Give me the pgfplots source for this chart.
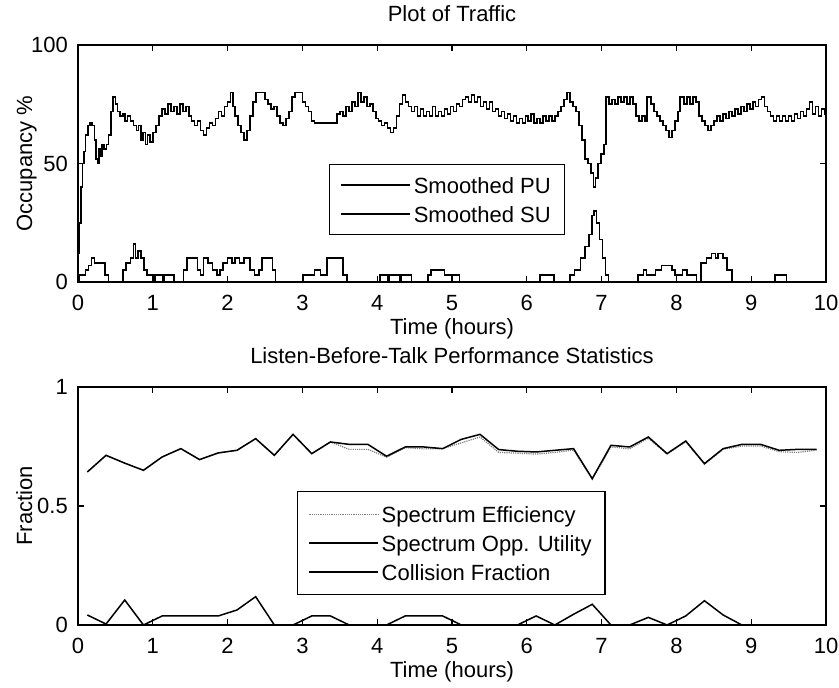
\documentclass[border=0pt]{standalone}
\usepackage{fontspec}
\setmainfont{Liberation Sans}
\usepackage{pgfplots}
\pgfplotsset{compat=1.18}
\newcommand{\ff}{\fontsize{22}{26}\selectfont}
\begin{document}
\begin{tikzpicture}
\useasboundingbox (0,0) rectangle (839pt,688pt);
\pgfplotsset{
  myaxis/.style={
    scale only axis, width=748pt,
    xmin=0, xmax=10, xtick={0,1,...,10},
    tick align=inside, xtick pos=both, ytick pos=both,
    major tick length=6pt,
    axis line style={line width=1.4pt},
    every tick/.style={line width=1.3pt, black},
    /pgf/number format/assume math mode=true,
    x tick label style={font=\ff, inner sep=0pt, anchor=base, yshift=-29pt},
    y tick label style={font=\ff, inner sep=0pt, anchor=east, xshift=-10pt},
    xlabel={Time (hours)},
    xlabel style={font=\ff, inner sep=0pt, at={(axis description cs:0.5,0)}, anchor=base, yshift=-53pt},
    ylabel style={font=\ff, inner sep=0pt, at={(axis description cs:-0.0615,0.5)}, anchor=base, rotate=0},
    title style={font=\ff, inner sep=0pt, at={(axis description cs:0.5,1)}, anchor=base, yshift=17pt},
    legend cell align=left,
    legend image code/.code={\draw[#1] (0pt,0pt) -- (69pt,0pt);},
    legend style={font=\ff, draw=black, line width=1.3pt, inner xsep=11pt,
      nodes={inner xsep=2.5pt, inner ysep=1pt, text height=22pt, text depth=5pt, line width=1.4pt}},
  }
}
% ---------------- top axis ----------------
\begin{axis}[myaxis, at={(78pt,406pt)}, anchor=south west, height=237pt,
  ymin=0, ymax=100, ytick={0,50,100},
  ylabel={Occupancy \%}, title={Plot of Traffic},
  legend style={at={(0.3356,0.4979)}, anchor=north west, inner ysep=6pt}]
\addplot[const plot, black, line width=1.6pt] coordinates {
(0,12) (0.02,25) (0.04,40) (0.06,50) (0.08,55) (0.10,62) (0.13,66) (0.16,67) (0.19,66) (0.22,60) (0.24,52) (0.26,50) (0.28,56) (0.30,53) (0.32,58) (0.35,56) (0.38,58) (0.41,62) (0.44,72) (0.47,78) (0.50,75) (0.53,72) (0.56,70) (0.60,71) (0.63,68) (0.66,70) (0.70,68) (0.74,66) (0.78,64) (0.81,66) (0.84,60) (0.87,63) (0.90,58) (0.93,62) (0.96,59) (1.00,63) (1.04,66) (1.08,70) (1.12,73) (1.16,71) (1.20,75) (1.24,72) (1.28,74) (1.32,71) (1.36,75) (1.40,72) (1.44,74) (1.48,70) (1.52,68) (1.56,66) (1.60,68) (1.64,64) (1.68,62) (1.72,65) (1.76,67) (1.80,66) (1.84,69) (1.88,72) (1.92,70) (1.96,74) (2.00,76) (2.04,80) (2.07,74) (2.10,70) (2.14,66) (2.18,63) (2.22,60) (2.26,64) (2.30,70) (2.34,76) (2.38,80) (2.46,80) (2.50,77) (2.54,75) (2.58,73) (2.62,74) (2.66,70) (2.70,67) (2.74,66) (2.78,69) (2.82,72) (2.86,78) (2.90,80) (2.96,80) (3.00,76) (3.04,74) (3.08,72) (3.12,68) (3.16,67) (3.42,67) (3.46,71) (3.50,72) (3.54,70) (3.58,74) (3.62,72) (3.66,76) (3.70,74) (3.74,80) (3.78,76) (3.82,78) (3.86,74) (3.90,75) (3.94,72) (3.98,69) (4.02,68) (4.06,66) (4.10,67) (4.14,65) (4.18,63) (4.22,65) (4.26,70) (4.30,75) (4.34,79) (4.38,76) (4.42,74) (4.46,72) (4.50,74) (4.54,70) (4.58,73) (4.62,70) (4.66,72) (4.70,70) (4.74,74) (4.78,70) (4.82,72) (4.86,70) (4.90,73) (4.94,71) (4.98,74) (5.02,72) (5.06,75) (5.10,74) (5.14,77) (5.18,78) (5.22,76) (5.26,79) (5.30,76) (5.34,78) (5.38,74) (5.42,76) (5.46,73) (5.50,76) (5.54,72) (5.58,73) (5.62,70) (5.66,72) (5.70,69) (5.74,71) (5.78,68) (5.82,70) (5.86,67) (5.90,69) (5.94,67) (5.98,70) (6.02,68) (6.06,71) (6.10,67) (6.14,69) (6.18,67) (6.22,70) (6.26,68) (6.30,70) (6.34,68) (6.38,70) (6.42,72) (6.46,74) (6.50,77) (6.54,80) (6.58,76) (6.62,74) (6.66,72) (6.70,66) (6.74,60) (6.78,52) (6.82,50) (6.86,46) (6.89,40) (6.92,44) (6.95,50) (6.99,54) (7.03,58) (7.06,78) (7.10,75) (7.14,77) (7.18,75) (7.22,78) (7.26,76) (7.30,78) (7.34,75) (7.38,78) (7.42,75) (7.46,70) (7.50,68) (7.54,70) (7.58,68) (7.61,78) (7.66,75) (7.70,72) (7.74,70) (7.78,68) (7.82,66) (7.86,64) (7.90,61) (7.94,64) (7.98,68) (8.02,72) (8.05,78) (8.10,75) (8.14,78) (8.18,75) (8.22,78) (8.26,76) (8.30,70) (8.34,68) (8.38,66) (8.42,64) (8.46,66) (8.50,68) (8.54,70) (8.58,68) (8.62,71) (8.66,69) (8.70,72) (8.74,70) (8.78,73) (8.82,71) (8.86,74) (8.90,72) (8.94,75) (8.98,73) (9.02,76) (9.06,74) (9.10,77) (9.14,78) (9.18,74) (9.22,72) (9.26,70) (9.30,68) (9.34,70) (9.38,68) (9.42,70) (9.46,68) (9.50,70) (9.54,68) (9.58,71) (9.62,69) (9.66,72) (9.70,70) (9.74,73) (9.78,76) (9.82,71) (9.86,74) (9.90,70) (9.94,73) (9.98,71) (10,73)
};
\addlegendentry{Smoothed PU}
\addplot[const plot, black, line width=1.6pt] coordinates {
(0,0) (0.02,3) (0.10,5) (0.14,7) (0.18,10) (0.22,8) (0.30,8) (0.36,3) (0.41,0) (0.58,0) (0.60,5) (0.64,8) (0.70,10) (0.74,16) (0.77,10) (0.80,13) (0.84,10) (0.88,5) (0.92,3) (1.00,3) (1.02,0) (1.03,3) (1.13,3) (1.14,0) (1.15,3) (1.27,3) (1.28,0) (1.40,0) (1.41,5) (1.46,10) (1.55,10) (1.60,5) (1.64,3) (1.68,10) (1.74,8) (1.80,5) (1.86,3) (1.90,5) (1.94,8) (2.00,10) (2.06,8) (2.10,10) (2.16,8) (2.22,10) (2.30,5) (2.36,3) (2.42,5) (2.46,10) (2.60,5) (2.64,0) (3.00,0) (3.01,3) (3.16,5) (3.24,3) (3.33,10) (3.50,10) (3.54,3) (3.60,0) (4.02,0) (4.04,3) (4.12,3) (4.14,0) (4.16,3) (4.28,3) (4.30,0) (4.32,3) (4.44,3) (4.46,0) (4.66,0) (4.68,3) (4.72,5) (4.86,5) (4.90,3) (5.08,3) (5.10,0) (6.16,0) (6.18,3) (6.34,3) (6.36,0) (6.55,0) (6.58,3) (6.64,5) (6.72,10) (6.78,15) (6.83,20) (6.87,28) (6.90,30) (6.93,25) (6.97,18) (7.01,10) (7.05,3) (7.09,0) (7.47,0) (7.49,3) (7.56,5) (7.60,3) (7.66,3) (7.72,5) (7.80,7) (7.90,7) (7.94,5) (7.98,3) (8.08,5) (8.14,3) (8.24,3) (8.27,0) (8.31,0) (8.33,8) (8.40,10) (8.47,12) (8.52,10) (8.56,12) (8.62,10) (8.68,5) (8.74,0) (9.30,0) (9.32,3) (9.45,3) (9.47,0) (10,0)
};
\addlegendentry{Smoothed SU}
\end{axis}
% ---------------- bottom axis ----------------
\begin{axis}[myaxis, at={(78pt,63pt)}, anchor=south west, height=238pt,
  ymin=0, ymax=1, ytick={0,0.5,1},
  yticklabels={0,0.5,1},
  ylabel={Fraction}, title={Listen-Before-Talk Performance Statistics},
  legend style={at={(0.2928,0.563)}, anchor=north west, inner ysep=8pt}]
\addplot[densely dotted, gray, line width=1.2pt] coordinates {
(0.125,0.643) (0.375,0.713) (0.625,0.680) (0.875,0.650) (1.125,0.706) (1.375,0.741) (1.625,0.695) (1.875,0.723) (2.125,0.734) (2.375,0.783) (2.625,0.713) (2.875,0.801) (3.125,0.720) (3.375,0.769) (3.625,0.738) (3.875,0.738) (4.125,0.705) (4.375,0.745) (4.625,0.740) (4.875,0.741) (5.125,0.765) (5.375,0.790) (5.625,0.725) (5.875,0.722) (6.125,0.718) (6.375,0.725) (6.625,0.735) (6.875,0.612) (7.125,0.748) (7.375,0.740) (7.625,0.785) (7.875,0.718) (8.125,0.770) (8.375,0.675) (8.625,0.738) (8.875,0.752) (9.125,0.752) (9.375,0.728) (9.625,0.725) (9.875,0.735)
};
\addlegendentry{Spectrum Efficiency}
\addplot[black, line width=1.5pt] coordinates {
(0.125,0.643) (0.375,0.713) (0.625,0.680) (0.875,0.650) (1.125,0.706) (1.375,0.741) (1.625,0.695) (1.875,0.723) (2.125,0.734) (2.375,0.783) (2.625,0.713) (2.875,0.801) (3.125,0.720) (3.375,0.769) (3.625,0.759) (3.875,0.759) (4.125,0.709) (4.375,0.748) (4.625,0.748) (4.875,0.741) (5.125,0.780) (5.375,0.801) (5.625,0.737) (5.875,0.730) (6.125,0.727) (6.375,0.734) (6.625,0.741) (6.875,0.615) (7.125,0.755) (7.375,0.748) (7.625,0.790) (7.875,0.720) (8.125,0.773) (8.375,0.678) (8.625,0.741) (8.875,0.759) (9.125,0.759) (9.375,0.734) (9.625,0.738) (9.875,0.738)
};
\addlegendentry{Spectrum Opp. Utility}
\addplot[black, line width=1.5pt] coordinates {
(0.125,0.042) (0.375,0.004) (0.625,0.105) (0.875,0.000) (1.125,0.038) (1.375,0.038) (1.625,0.038) (1.875,0.038) (2.125,0.063) (2.375,0.119) (2.625,0.000) (2.875,0.000) (3.125,0.038) (3.375,0.038) (3.625,0.000) (3.875,0.000) (4.125,0.000) (4.375,0.038) (4.625,0.038) (4.875,0.038) (5.125,0.000) (5.375,0.000) (5.625,0.000) (5.875,0.000) (6.125,0.038) (6.375,0.000) (6.625,0.045) (6.875,0.087) (7.125,0.000) (7.375,0.000) (7.625,0.032) (7.875,0.000) (8.125,0.038) (8.375,0.102) (8.625,0.042) (8.875,0.000) (9.125,0.000) (9.375,0.000) (9.625,0.000) (9.875,0.000)
};
\addlegendentry{Collision Fraction}
\end{axis}
\end{tikzpicture}
\end{document}
